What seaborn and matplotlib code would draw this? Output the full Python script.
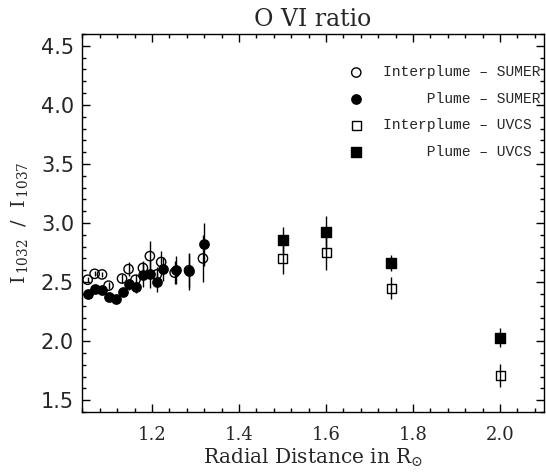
import numpy as np
import pandas as pd
import matplotlib
matplotlib.use("Agg")
import matplotlib.pyplot as plt
import seaborn as sns
from matplotlib.ticker import MultipleLocator

# ---- data ----
sumer_ip_x = [1.052, 1.068, 1.085, 1.100, 1.131, 1.146, 1.162, 1.179, 1.195, 1.211, 1.221, 1.252, 1.285, 1.317]
sumer_ip_y = [2.52, 2.57, 2.565, 2.47, 2.53, 2.61, 2.52, 2.62, 2.72, 2.565, 2.67, 2.58, 2.60, 2.70]
sumer_ip_e = [0.02, 0.02, 0.02, 0.03, 0.04, 0.06, 0.05, 0.06, 0.13, 0.06, 0.09, 0.10, 0.14, 0.20]

sumer_pl_x = [1.052, 1.070, 1.085, 1.100, 1.116, 1.133, 1.148, 1.164, 1.179, 1.195, 1.211, 1.225, 1.256, 1.285, 1.319]
sumer_pl_y = [2.40, 2.44, 2.43, 2.37, 2.36, 2.42, 2.48, 2.46, 2.56, 2.57, 2.50, 2.61, 2.60, 2.59, 2.82]
sumer_pl_e = [0.02, 0.02, 0.02, 0.02, 0.02, 0.03, 0.05, 0.05, 0.10, 0.12, 0.08, 0.10, 0.12, 0.16, 0.18]

uvcs_ip_x = [1.50, 1.60, 1.75, 2.00]
uvcs_ip_y = [2.70, 2.75, 2.45, 1.71]
uvcs_ip_e = [0.13, 0.15, 0.09, 0.10]

uvcs_pl_x = [1.50, 1.60, 1.75, 2.00]
uvcs_pl_y = [2.86, 2.92, 2.66, 2.03]
uvcs_pl_e = [0.11, 0.14, 0.07, 0.08]

labels = ["Interplume – SUMER", "     Plume – SUMER", "Interplume – UVCS", "     Plume – UVCS"]
title = "O VI ratio"
xlabel = r"Radial Distance in R$_{\odot}$"
ylabel = r"I$_{\,\mathregular{1032}}$  /  I$_{\,\mathregular{1037}}$"
xticks = [1.2, 1.4, 1.6, 1.8, 2.0]
yticks = [1.5, 2.0, 2.5, 3.0, 3.5, 4.0, 4.5]

# ---- plot ----
sns.set_style("ticks")
plt.rcParams["mathtext.fontset"] = "dejavuserif"

fig = plt.figure(figsize=(5.46, 4.72), dpi=100)
ax = fig.add_axes([0.151, 0.127, 0.8445, 0.801])

series = [
    (sumer_ip_x, sumer_ip_y, sumer_ip_e, "o", False, labels[0]),
    (sumer_pl_x, sumer_pl_y, sumer_pl_e, "o", True, labels[1]),
    (uvcs_ip_x, uvcs_ip_y, uvcs_ip_e, "s", False, labels[2]),
    (uvcs_pl_x, uvcs_pl_y, uvcs_pl_e, "s", True, labels[3]),
]

for xs, ys, es, mk, filled, lab in series:
    ax.errorbar(xs, ys, yerr=es, fmt="none", ecolor="black", elinewidth=1.0, capsize=0, zorder=2)
for xs, ys, es, mk, filled, lab in series:
    df = pd.DataFrame({"x": xs, "y": ys})
    sns.scatterplot(data=df, x="x", y="y", ax=ax, marker=mk, s=45 if mk == "o" else 42,
                    facecolor="black" if filled else "none", edgecolor="black",
                    linewidth=1.0, label=lab, zorder=3)

ax.set_xlim(1.04, 2.1)
ax.set_ylim(1.4, 4.6)
ax.set_xticks(xticks)
ax.set_yticks(yticks)
ax.set_xticklabels([f"{v:.1f}" for v in xticks], fontfamily="DejaVu Serif", fontsize=13)
ax.set_yticklabels([f"{v:.1f}" for v in yticks], fontfamily="DejaVu Sans", fontsize=15)
ax.xaxis.set_minor_locator(MultipleLocator(0.04))
ax.yaxis.set_minor_locator(MultipleLocator(0.1))
ax.tick_params(which="both", direction="in", top=True, right=True, color="black", width=1)
ax.tick_params(which="major", length=6)
ax.tick_params(which="minor", length=3)
ax.tick_params(axis="x", pad=10)
ax.tick_params(axis="y", pad=6)
for sp in ax.spines.values():
    sp.set_color("black")
    sp.set_linewidth(1.0)

ax.set_title(title, fontfamily="DejaVu Serif", fontsize=17, pad=6)
ax.set_xlabel(xlabel, fontfamily="DejaVu Serif", fontsize=14.5, labelpad=2)
ax.set_ylabel(ylabel, fontfamily="DejaVu Serif", fontsize=14, labelpad=8)

leg = ax.legend(loc="upper left", bbox_to_anchor=(0.578, 0.917), frameon=False,
                prop={"family": "Liberation Mono", "size": 10.5},
                handlelength=1.0, handletextpad=1.3, labelspacing=0.85,
                borderpad=0, borderaxespad=0)

fig.savefig("out.png", dpi=100)
